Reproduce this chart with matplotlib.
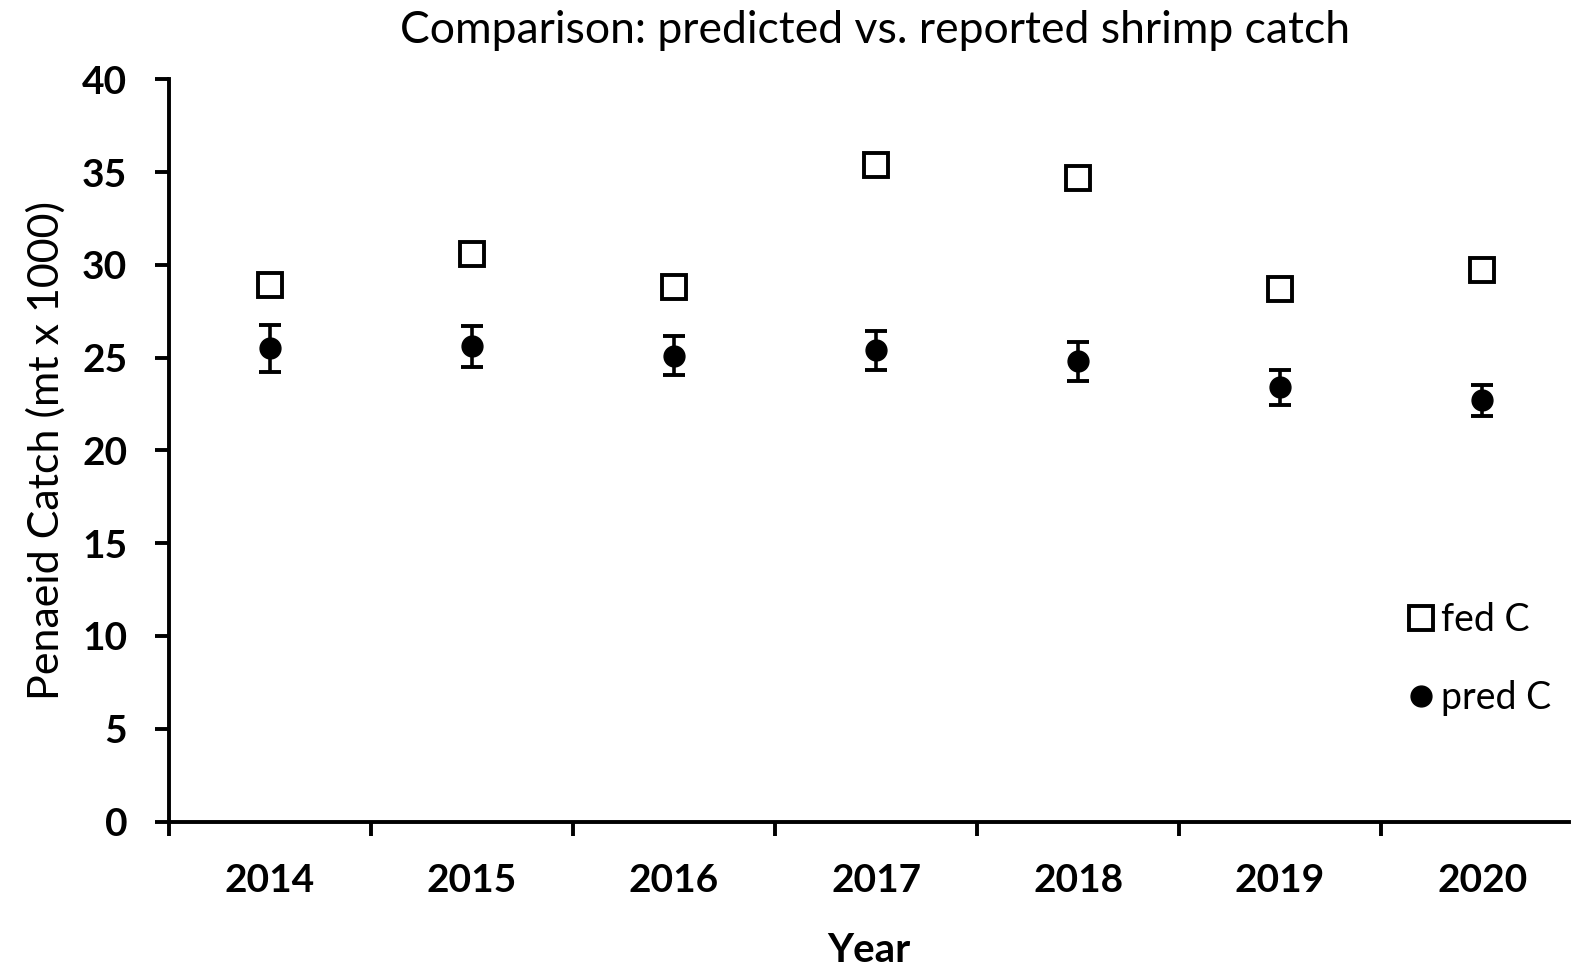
import numpy as np
import matplotlib
matplotlib.use("Agg")
import matplotlib.pyplot as plt
from matplotlib.lines import Line2D

# ---------------------------------
# data
# ---------------------------------
years = ["2014", "2015", "2016", "2017", "2018", "2019", "2020"]
fed_c = [28.9, 30.6, 28.8, 35.4, 34.7, 28.7, 29.7]
pred_c = [25.5, 25.6, 25.1, 25.4, 24.8, 23.4, 22.7]
pred_err = [1.25, 1.1, 1.05, 1.05, 1.05, 0.95, 0.85]

plt.rcParams["font.family"] = ["Lato", "DejaVu Sans"]

fig = plt.figure(figsize=(15.73, 9.73), dpi=100)
ax = fig.add_axes([169 / 1573, 1 - 821.5 / 973, 1400 / 1573, (821.5 - 79.3) / 973])

x = np.arange(len(years))

ax.plot(x, fed_c, linestyle="none", marker="s", markersize=17,
        markerfacecolor="white", markeredgecolor="black", markeredgewidth=2.8,
        zorder=3)
ax.errorbar(x, pred_c, yerr=pred_err, fmt="o", color="black", markersize=15,
            elinewidth=2.6, capsize=8, capthick=2.8, zorder=3)

# ---------------------------------
# axes
# ---------------------------------
ax.set_xlim(-0.5, 6.43)
ax.set_ylim(0, 40)
ax.set_yticks(range(0, 41, 5))
ax.set_xticks(np.arange(-0.5, 6.5, 1.0))
ax.set_xticklabels([])
ax.set_xticks(x, minor=True)
ax.set_xticklabels(years, minor=True)

for side in ["top", "right"]:
    ax.spines[side].set_visible(False)
for side in ["left", "bottom"]:
    ax.spines[side].set_linewidth(2.8)

ax.tick_params(axis="both", which="major", direction="out", length=10, width=2.8)
ax.tick_params(axis="y", labelsize=28, pad=20)
ax.tick_params(axis="x", which="minor", length=0, labelsize=28, pad=30)
for lab in ax.get_yticklabels() + ax.get_xticklabels(minor=True):
    lab.set_fontweight("bold")

ax.set_ylabel("Penaeid Catch (mt x 1000)", fontsize=31, labelpad=12)
ax.set_xlabel("Year", fontsize=29, fontweight="bold", labelpad=24)

fig.suptitle("Comparison: predicted vs. reported shrimp catch", fontsize=32,
             x=875 / 1573, y=0.99, va="top")

# ---------------------------------
# legend
# ---------------------------------
handles = [
    Line2D([], [], linestyle="none", marker="s", markersize=17,
           markerfacecolor="white", markeredgecolor="black", markeredgewidth=2.8),
    Line2D([], [], linestyle="none", marker="o", markersize=15, color="black"),
]
ax.legend(handles, ["fed C", "pred C"], loc="center left",
          bbox_to_anchor=(1387 / 1573, 1 - 659 / 973),
          bbox_transform=fig.transFigure, frameon=False, fontsize=27,
          handlelength=0.8, handletextpad=0.15, labelspacing=1.1,
          borderpad=0, numpoints=1)

fig.savefig("out.png", dpi=100)
